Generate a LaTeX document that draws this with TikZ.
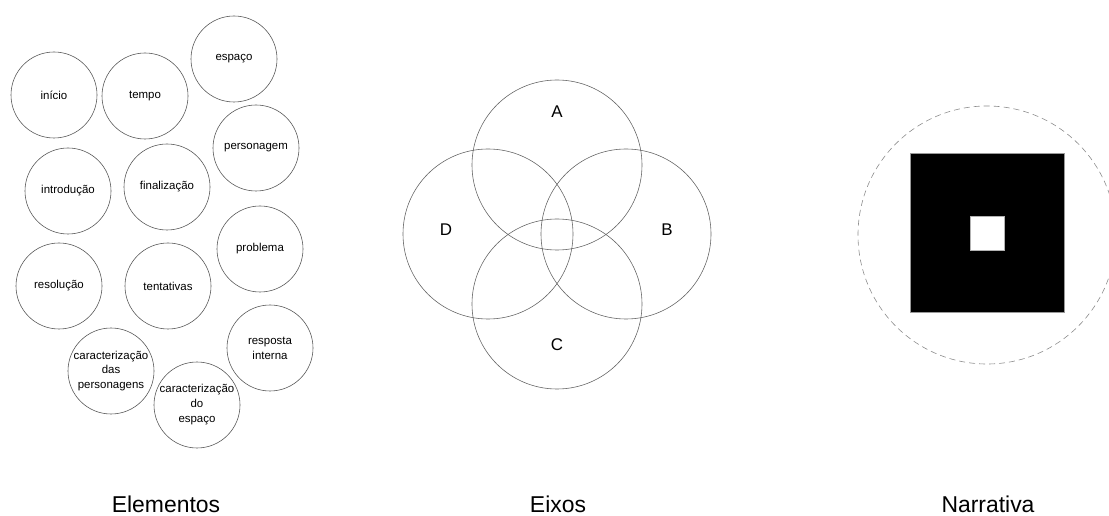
\documentclass[tikz,border=0pt]{standalone}
\usepackage{fontspec}
\setmainfont{Liberation Sans}
\usetikzlibrary{positioning}

\tikzstyle{element} = [circle, draw=black!65, line width=0.6pt, minimum size=86bp, inner sep=0pt, align=center, font=\fontsize{11.5}{15}\selectfont]
\tikzstyle{axis} = [circle, draw=black!60, line width=0.6pt, minimum size=170bp, inner sep=0pt]
\tikzset{
    axislabel/.style={
        font=\fontsize{17}{18}\selectfont
    },
    title/.style={
        font=\fontsize{23}{26}\selectfont, anchor=base
    }
}

\begin{document}
\begin{tikzpicture}[x=1bp, y=-1bp]

    \useasboundingbox (0,0) rectangle (1109,516);

    % Elementos (loose circles)
    \node[element] (inicio) at (54,95) {in\'icio};
    \node[element] (tempo) at (145,96) {tempo};
    \node[element] (espaco) at (234,59) {espaço};
    \node[element] (personagem) at (256,148) {personagem};
    \node[element] (introducao) at (68,191) {introdução};
    \node[element] (finalizacao) at (167,187) {finalização};
    \node[element] (problema) at (260,249) {problema};
    \node[element] (resolucao) at (59,286) {resolução};
    \node[element] (tentativas) at (168,286) {tentativas};
    \node[element] (carpers) at (111,371) {caracterização\\das\\personagens};
    \node[element] (resposta) at (270,348) {resposta\\interna};
    \node[element] (caresp) at (197,405) {caracterização\\do\\espaço};

    % Eixos (four overlapping circles)
    \node[axis] (circA) at (557,165) {};
    \node[axis] (circB) at (626,234) {};
    \node[axis] (circC) at (557,304) {};
    \node[axis] (circD) at (488,234) {};
    \node[axislabel] at (557,112) {A};
    \node[axislabel] at (667,230) {B};
    \node[axislabel] at (557,345) {C};
    \node[axislabel] at (446,230) {D};

    % Narrativa
    \node[circle, draw=black!45, dashed, dash pattern=on 6bp off 4bp, line width=0.6pt, minimum size=258bp, inner sep=0pt] (ring) at (987,235) {};
    \node[rectangle, fill=black, draw=black!40, minimum width=154bp, minimum height=159bp, inner sep=0pt] (block) at (987,233) {};
    \node[rectangle, fill=white, draw=black!30, minimum size=34bp, inner sep=0pt] (core) at (block.center) {};

    % Titles
    \node[title] (elementos) at (166,512) {Elementos};
    \node[title] (eixos) at (558,512) {Eixos};
    \node[title] (narrativa) at (988,512) {Narrativa};

\end{tikzpicture}
\end{document}
